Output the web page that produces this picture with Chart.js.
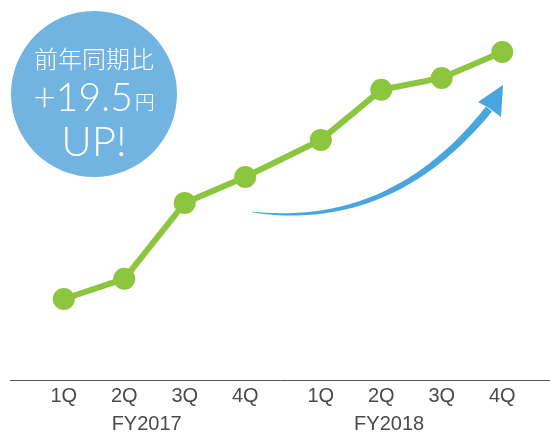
<!DOCTYPE html>
<html>
<head>
<meta charset="utf-8">
<script src="https://cdn.jsdelivr.net/npm/chart.js@4.4.1/dist/chart.umd.min.js"></script>
<style>
html,body{margin:0;padding:0;background:#fff;}
#wrap{width:550px;height:435px;position:relative;}
</style>
</head>
<body>
<div id="wrap"><canvas id="c" width="550" height="435"></canvas></div>
<script>
// Data
const fiscalYears = ['FY2017', 'FY2018'];
const quarters = ['1Q', '2Q', '3Q', '4Q'];
const values = [22.5, 28.1, 49.2, 56.4, 66.7, 80.6, 83.9, 91.1];
const badgeLines = ['前年同期比', '+19.5', '円', 'UP!'];

const GROUP_GAP = 0.25;
const xPos = [];
const tickLabels = [];
fiscalYears.forEach((fy, g) => quarters.forEach((q, i) => {
  xPos.push(g * (quarters.length + GROUP_GAP) + i);
  tickLabels.push(q);
}));
const points = values.map((v, i) => ({x: xPos[i], y: v}));

const GREEN = '#8cc63f';
const BLUE = '#47a6dd';
const BADGE = '#72b4e1';
const TEXT = '#4a4a4a';
const LIGHT = '300 ';
const LABEL_FONT = '"Liberation Sans", Arial, sans-serif';

const decor = {
  id: 'decor',
  beforeDatasetsDraw(chart) {
    const ctx = chart.ctx;
    // curved arrow
    const P0 = {x: 252, y: 212}, P1 = {x: 392, y: 230}, P2 = {x: 489, y: 109};
    const N = 60, left = [], right = [];
    for (let k = 0; k <= N; k++) {
      const t = k / N;
      const x = (1-t)*(1-t)*P0.x + 2*t*(1-t)*P1.x + t*t*P2.x;
      const y = (1-t)*(1-t)*P0.y + 2*t*(1-t)*P1.y + t*t*P2.y;
      const dx = 2*(1-t)*(P1.x-P0.x) + 2*t*(P2.x-P1.x);
      const dy = 2*(1-t)*(P1.y-P0.y) + 2*t*(P2.y-P1.y);
      const len = Math.hypot(dx, dy);
      const nx = -dy/len, ny = dx/len;
      const w = 0.3 + 3.6 * Math.pow(t, 0.7);
      left.push([x + nx*w, y + ny*w]);
      right.push([x - nx*w, y - ny*w]);
    }
    ctx.save();
    ctx.fillStyle = BLUE;
    ctx.beginPath();
    left.forEach((p, i) => i ? ctx.lineTo(p[0], p[1]) : ctx.moveTo(p[0], p[1]));
    for (let i = right.length - 1; i >= 0; i--) ctx.lineTo(right[i][0], right[i][1]);
    ctx.closePath();
    ctx.fill();
    ctx.beginPath();
    ctx.moveTo(503, 85);
    ctx.lineTo(478, 102);
    ctx.lineTo(489, 108);
    ctx.lineTo(501, 117);
    ctx.closePath();
    ctx.fill();
    ctx.restore();
  },
  afterDraw(chart) {
    const ctx = chart.ctx;
    const xs = chart.scales.x;
    ctx.save();
    // group labels
    ctx.fillStyle = TEXT;
    ctx.font = '20px ' + LABEL_FONT;
    ctx.textAlign = 'center';
    ctx.textBaseline = 'middle';
    const groupCenters = [1.37, 5.38];
    fiscalYears.forEach((fy, g) => {
      ctx.fillText(fy, xs.getPixelForValue(groupCenters[g]), 424);
    });
    // badge
    ctx.fillStyle = BADGE;
    ctx.beginPath();
    ctx.arc(94, 94, 83, 0, Math.PI * 2);
    ctx.fill();
    ctx.fillStyle = '#ffffff';
    ctx.textAlign = 'center';
    ctx.textBaseline = 'alphabetic';
    ctx.font = LIGHT + '24px "Noto Sans CJK JP", sans-serif';
    ctx.fillText(badgeLines[0], 94, 68);
    const bigFont = LIGHT + '39px Lato, "Liberation Sans", sans-serif';
    const smallFont = LIGHT + '20px "Noto Sans CJK JP", sans-serif';
    ctx.textAlign = 'left';
    ctx.font = bigFont;
    const w1 = ctx.measureText(badgeLines[1]).width;
    ctx.font = smallFont;
    const w2 = ctx.measureText(badgeLines[2]).width;
    const startX = 94 - (w1 + w2 + 2) / 2;
    ctx.font = bigFont;
    ctx.fillText(badgeLines[1], startX, 111);
    ctx.font = smallFont;
    ctx.fillText(badgeLines[2], startX + w1 + 2, 110);
    ctx.textAlign = 'center';
    ctx.font = LIGHT + '42px Lato, "Liberation Sans", sans-serif';
    ctx.fillText(badgeLines[3], 94, 156);
    ctx.restore();
  }
};

new Chart(document.getElementById('c'), {
  type: 'line',
  data: {
    datasets: [{
      data: points,
      borderColor: GREEN,
      backgroundColor: GREEN,
      borderWidth: 6,
      pointRadius: 11,
      pointBorderWidth: 0,
      pointBackgroundColor: GREEN,
      tension: 0,
      clip: false
    }]
  },
  options: {
    responsive: false,
    animation: false,
    layout: {autoPadding: false, padding: {left: 10, right: 0, top: 20, bottom: 0}},
    plugins: {legend: {display: false}, tooltip: {enabled: false}},
    scales: {
      x: {
        type: 'linear',
        min: -0.89,
        max: 8.04,
        grid: {display: false, drawTicks: false},
        border: {display: true, color: '#555555', width: 1},
        afterBuildTicks(axis) { axis.ticks = xPos.map(v => ({value: v})); },
        afterFit(axis) { axis.height = 55; axis.paddingLeft = 0; axis.paddingRight = 0; },
        ticks: {
          autoSkip: false,
          maxRotation: 0,
          padding: 4,
          color: TEXT,
          font: {family: LABEL_FONT, size: 20},
          callback(value) { const i = xPos.indexOf(value); return i >= 0 ? tickLabels[i] : ''; }
        }
      },
      y: {display: false, min: 0, max: 100}
    }
  },
  plugins: [decor]
});
</script>
</body>
</html>
